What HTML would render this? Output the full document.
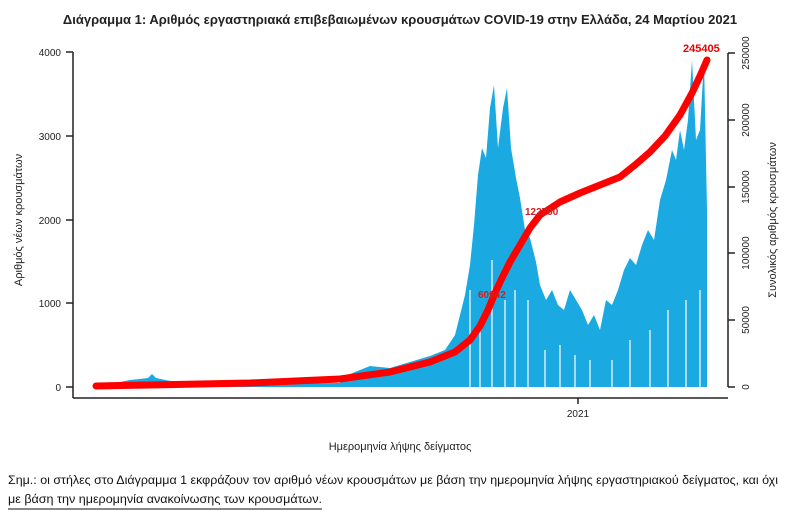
<!DOCTYPE html>
<html><head><meta charset="utf-8"><style>
body{margin:0;background:#fff;width:800px;height:511px;overflow:hidden;font-family:"Liberation Sans","DejaVu Sans",sans-serif}
svg{position:absolute;left:0;top:0}
</style></head><body>
<svg width="800" height="511" viewBox="0 0 800 511" font-family="Liberation Sans, DejaVu Sans, sans-serif">
<text x="400" y="24" text-anchor="middle" font-size="13" font-weight="bold" fill="#222">Διάγραμμα 1: Αριθμός εργαστηριακά επιβεβαιωμένων κρουσμάτων COVID-19 στην Ελλάδα, 24 Μαρτίου 2021</text>
<polygon fill="#1ba9e1" points="95,387 95,383 120,382 130,380 140,379 148,378 152,374 156,378 180,383 200,384 340,383 350,374 370,366 390,368 410,362 430,356 445,350 455,335 460,315 465,295 470,265 474,225 478,175 482,148 486,158 490,108 494,85 498,148 503,108 507,88 511,148 516,178 520,198 525,230 530,238 536,262 540,285 546,300 552,290 558,305 564,310 570,290 576,300 582,310 588,325 594,315 600,330 606,300 612,305 618,290 624,270 630,258 636,265 642,245 648,230 654,240 660,200 666,180 672,150 676,160 680,130 684,150 688,120 692,60 696,140 700,130 704,60 707,210 707,387"/>
<g stroke="#fff" stroke-width="1.2">
<line x1="470" y1="387" x2="470" y2="290"/><line x1="480" y1="387" x2="480" y2="320"/><line x1="492" y1="387" x2="492" y2="260"/><line x1="505" y1="387" x2="505" y2="300"/><line x1="515" y1="387" x2="515" y2="290"/><line x1="528" y1="387" x2="528" y2="300"/><line x1="545" y1="387" x2="545" y2="350"/><line x1="560" y1="387" x2="560" y2="345"/><line x1="575" y1="387" x2="575" y2="355"/><line x1="590" y1="387" x2="590" y2="360"/><line x1="612" y1="387" x2="612" y2="360"/><line x1="630" y1="387" x2="630" y2="340"/><line x1="650" y1="387" x2="650" y2="330"/><line x1="668" y1="387" x2="668" y2="310"/><line x1="686" y1="387" x2="686" y2="300"/><line x1="700" y1="387" x2="700" y2="290"/>
</g>
<polyline fill="none" stroke="#f00" stroke-width="7" stroke-linecap="round" stroke-linejoin="round" points="96,386 150,385 250,383 340,379 390,372 430,362 455,352 470,340 480,326 488,310 495,293 502,278 510,262 520,245 530,228 540,215 560,202 580,193 600,185 620,177 635,165 650,152 665,136 680,115 692,93 700,76 707,60"/>
<text x="478" y="298" font-size="10" fill="#c22" font-weight="bold">60942</text>
<text x="525" y="215" font-size="10" fill="#c22" font-weight="bold">122790</text>
<text x="683" y="52" font-size="11" fill="#e00" font-weight="bold">245405</text>
<g stroke="#222" stroke-width="1.5" fill="none">
<line x1="73" y1="52" x2="73" y2="398"/>
<line x1="73" y1="398" x2="728" y2="398"/>
<line x1="728" y1="53" x2="728" y2="387"/>
<line x1="66" y1="387" x2="73" y2="387"/><line x1="66" y1="303" x2="73" y2="303"/><line x1="66" y1="220" x2="73" y2="220"/><line x1="66" y1="136" x2="73" y2="136"/><line x1="66" y1="52" x2="73" y2="52"/>
<line x1="728" y1="387" x2="735" y2="387"/><line x1="728" y1="320" x2="735" y2="320"/><line x1="728" y1="253" x2="735" y2="253"/><line x1="728" y1="187" x2="735" y2="187"/><line x1="728" y1="120" x2="735" y2="120"/><line x1="728" y1="53" x2="735" y2="53"/>
<line x1="578" y1="398" x2="578" y2="404"/>
</g>
<g font-size="10" fill="#222" text-anchor="end">
<text x="61" y="391">0</text><text x="61" y="307">1000</text><text x="61" y="224">2000</text><text x="61" y="140">3000</text><text x="61" y="56">4000</text>
</g>
<g font-size="10" fill="#222" text-anchor="middle">
<text transform="translate(749,387) rotate(-90)">0</text>
<text transform="translate(749,320) rotate(-90)">50000</text>
<text transform="translate(749,253) rotate(-90)">100000</text>
<text transform="translate(749,187) rotate(-90)">150000</text>
<text transform="translate(749,120) rotate(-90)">200000</text>
<text transform="translate(749,53) rotate(-90)">250000</text>
<text x="578" y="417">2021</text>
</g>
<text transform="translate(22,220) rotate(-90)" font-size="11" text-anchor="middle" fill="#222">Αριθμός νέων κρουσμάτων</text>
<text transform="translate(776,220) rotate(-90)" font-size="11" text-anchor="middle" fill="#222">Συνολικός αριθμός κρουσμάτων</text>
<text x="400" y="450" font-size="11" text-anchor="middle" fill="#222">Ημερομηνία λήψης δείγματος</text>
<text x="8" y="484" font-size="12" fill="#111" textLength="770" lengthAdjust="spacingAndGlyphs">Σημ.: οι στήλες στο Διάγραμμα 1 εκφράζουν τον αριθμό νέων κρουσμάτων με βάση την ημερομηνία λήψης εργαστηριακού δείγματος, και όχι</text>
<text x="8" y="503" font-size="12" fill="#111" textLength="314" lengthAdjust="spacingAndGlyphs">με βάση την ημερομηνία ανακοίνωσης των κρουσμάτων.</text>
<line x1="8" y1="509" x2="322" y2="509" stroke="#111" stroke-width="1"/>
</svg>
</body></html>
